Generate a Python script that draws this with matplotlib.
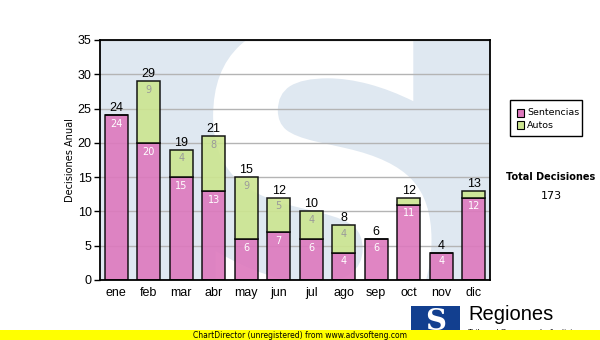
import matplotlib
matplotlib.use("Agg")
import matplotlib.pyplot as plt
from matplotlib.textpath import TextPath
from matplotlib.font_manager import FontProperties
from matplotlib.patches import PathPatch, Rectangle
from matplotlib.transforms import Affine2D
import numpy as np

months = ["ene", "feb", "mar", "abr", "may", "jun", "jul", "ago", "sep", "oct", "nov", "dic"]
sentencias = [24, 20, 15, 13, 6, 7, 6, 4, 6, 11, 4, 12]
autos = [0, 9, 4, 8, 9, 5, 4, 4, 0, 1, 0, 1]
yticks = [0, 5, 10, 15, 20, 25, 30, 35]

pink = "#dd78bd"
green = "#cce590"
bg = "#dfe8f1"

fig = plt.figure(figsize=(6, 3.4), dpi=100)
W, H = 600, 340
ax = fig.add_axes([100 / W, 1 - 280 / H, 390 / W, 240 / H])
ax.set_facecolor(bg)

# watermark S
tp = TextPath((0, 0), "S", prop=FontProperties(family="DejaVu Sans", weight="bold"), size=1)
ext = tp.get_extents()
x0, x1, y0, y1 = 0.29, 0.85, -0.25, 1.08
tr = Affine2D().translate(-ext.x0, -ext.y0).scale((x1 - x0) / ext.width, (y1 - y0) / ext.height).translate(x0, y0)
sp = PathPatch(tr.transform_path(tp), facecolor="white", edgecolor="none",
               transform=ax.transAxes, zorder=0.5, clip_on=True)
ax.add_patch(sp)

x = np.arange(len(months))
ax.set_xlim(-0.5, len(months) - 0.5)
ax.set_ylim(0, 35)
ax.set_yticks(yticks)
ax.yaxis.grid(True, color="#b4b4b4", linewidth=1)
ax.set_axisbelow(True)

bw = 0.7
ax.bar(x, sentencias, width=bw, color=pink, alpha=0.9, edgecolor="black", linewidth=1.1, zorder=2, label="Sentencias")
ax.bar(x, autos, width=bw, bottom=sentencias, color=green, alpha=0.9, edgecolor="black", linewidth=1.1, zorder=2, label="Autos")

tf = dict(family="Liberation Sans")
for i in range(len(months)):
    s, a = sentencias[i], autos[i]
    ax.text(x[i], s + a + 0.15, str(s + a), ha="center", va="bottom", fontsize=9, zorder=3, **tf)
    if s >= 2:
        ax.text(x[i], s - 0.55, str(s), ha="center", va="top", fontsize=7, color="white", zorder=3, family="DejaVu Sans")
    if a >= 2:
        ax.text(x[i], s + a - 0.55, str(a), ha="center", va="top", fontsize=7, color="#9a9a9a", zorder=3, family="DejaVu Sans")

ax.set_xticks(x)
ax.set_xticklabels(months, fontsize=9, **tf)
for lab in ax.get_yticklabels():
    lab.set_fontsize(9)
    lab.set_family("Liberation Sans")
ax.tick_params(axis="x", length=0, pad=5)
ax.tick_params(axis="y", length=4, width=1, pad=2)
for sp_ in ax.spines.values():
    sp_.set_linewidth(1.3)
ax.set_ylabel("Decisiones Anual", fontsize=7, family="DejaVu Sans", labelpad=2)

# legend
fig.patches.append(Rectangle((510 / W, 1 - 136 / H), 72 / W, 36 / H, transform=fig.transFigure,
                             facecolor="white", edgecolor="black", linewidth=1))
for j, (lab, c) in enumerate([("Sentencias", pink), ("Autos", green)]):
    yy = 113 + j * 12
    fig.patches.append(Rectangle((517 / W, 1 - (yy + 3.5) / H), 7 / W, 7 / H, transform=fig.transFigure,
                                 facecolor=c, edgecolor="black", linewidth=0.8))
    fig.text(527 / W, 1 - yy / H, lab, fontsize=6.8, va="center", ha="left", family="DejaVu Sans")

fig.text(551 / W, 1 - 177 / H, "Total Decisiones", fontsize=7, fontweight="bold", ha="center", va="center", family="DejaVu Sans")
fig.text(551 / W, 1 - 196 / H, str(sum(sentencias) + sum(autos)), fontsize=8, ha="center", va="center", family="DejaVu Sans")

# logo
fig.patches.append(Rectangle((411 / W, 1 - 334 / H), 49 / W, 28 / H, transform=fig.transFigure,
                             facecolor="#123f8f", edgecolor="none", zorder=1))
fig.text(436 / W, 1 - 321 / H, "S", fontsize=21, fontweight="bold", color="white", ha="center", va="center",
         family="DejaVu Serif", zorder=2)
fig.text(468 / W, 1 - 315 / H, "Regiones", fontsize=14.5, ha="left", va="center", family="Liberation Sans", zorder=2)
fig.text(468 / W, 1 - 332.5 / H, "Tribunal Supremo de Justicia", fontsize=6, ha="left", va="center",
         family="Liberation Sans", zorder=2)

# yellow bar
fig.patches.append(Rectangle((0, 0), 1, 10 / H, transform=fig.transFigure, facecolor="#ffff00", edgecolor="none", zorder=5))
fig.text(300 / W, 5 / H, "ChartDirector (unregistered) from www.advsofteng.com", fontsize=5.5, ha="center", va="center",
         family="DejaVu Sans", zorder=6)

fig.savefig("out.png", dpi=100)
